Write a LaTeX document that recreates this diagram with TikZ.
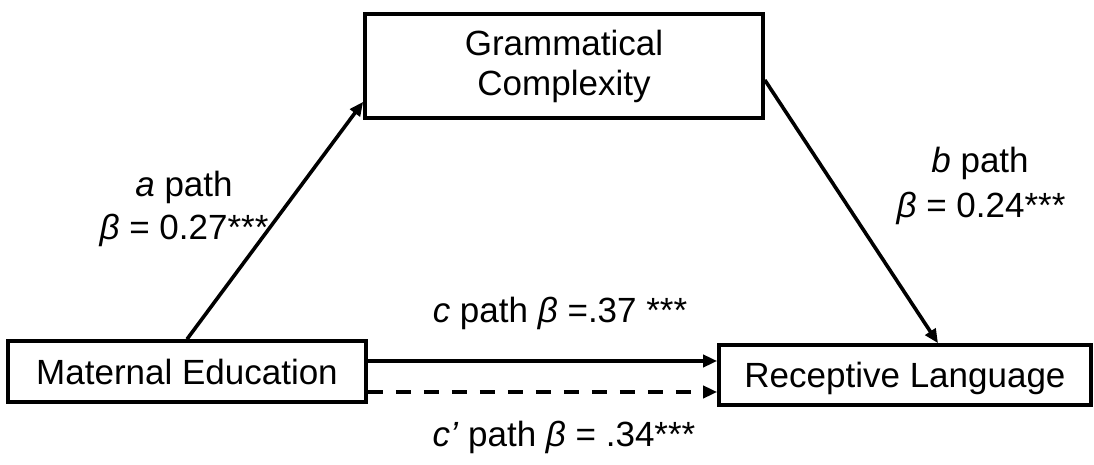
\documentclass[tikz,border=0pt]{standalone}
\usepackage{fontspec}
\setmainfont{Liberation Sans}
\usetikzlibrary{arrows.meta,calc}

\begin{document}
\begin{tikzpicture}[x=1pt,y=1pt,
  every node/.style={font=\fontsize{35}{40}\selectfont, inner sep=0pt},
  varbox/.style={draw, line width=3.6pt, minimum width=#1, anchor=center},
  pathline/.style={line width=3.6pt, -{Triangle[length=14pt,width=12pt]}},
  lbl/.style={anchor=base}
]
\useasboundingbox (0,0) rectangle (1094,465);

% variables
\node[varbox=358pt, minimum height=61pt, text depth=0pt] (me) at (187,93.5) {Maternal Education};
\node[varbox=398pt, minimum height=104pt, align=center] (gc) at (564,399) {Grammatical\\Complexity};
\node[varbox=372pt, minimum height=60pt, text depth=0pt] (rl) at (905,90) {Receptive Language};

% indirect paths
\draw[pathline] (me.north) -- ($(gc.south west)+(0,18)$);
\draw[pathline] ($(gc.east)+(0,-14)$) -- ($(rl.north)+(33,0)$);

% direct paths
\coordinate (c0) at ($(me.east)+(0,10.5)$);
\coordinate (d0) at ($(me.east)+(0,-20.5)$);
\draw[pathline] (c0) -- (c0 -| rl.west);
\draw[pathline, dash pattern=on 15pt off 13pt] (d0) -- (d0 -| rl.west);

% coefficients
\node[lbl] (a1) at (184,268) {\textit{a} path};
\node[lbl] (a2) at (184,225) {\textit{β} = 0.27***};
\node[lbl] (b1) at (980,292) {\textit{b} path};
\node[lbl] (b2) at (981,247) {\textit{β} = 0.24***};
\node[lbl] (cl) at (560,142) {\textit{c} path \textit{β} =.37 ***};
\node[lbl] (dl) at (564,18) {\textit{c’} path \textit{β} = .34***};
\end{tikzpicture}
\end{document}
